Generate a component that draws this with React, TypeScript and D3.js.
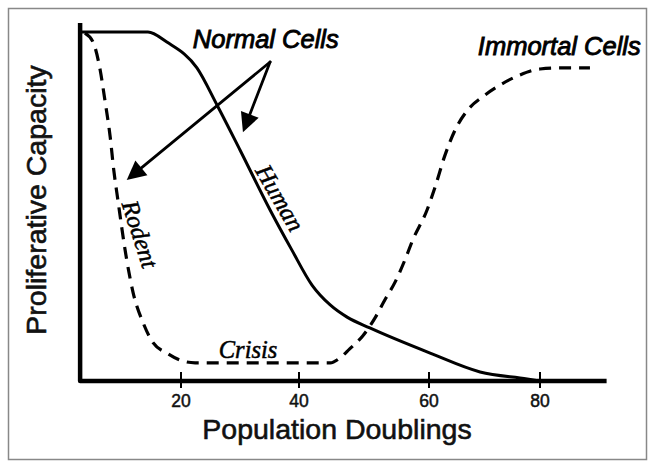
import React from "react";
import * as d3 from "d3";

// ---- data (population doublings, proliferative capacity %) ----
const xTicks = [20, 40, 60, 80];

const humanX = [2.9, 14.4, 17.6, 22.7, 26.1, 30.0, 35.1, 38.8, 42.0, 44.8, 47.4, 50.9, 60.2, 69.2, 77.7, 80];
const humanY = [100, 100, 97.1, 89.7, 79.1, 66.2, 49.0, 37.5, 27.5, 21.8, 18.3, 15.2, 8.0, 2.6, 0.6, 0];

const rodentX = [3.7, 5.1, 6.3, 7.1, 8.0, 8.6, 9.3, 10.8, 11.9, 13.6, 15.3, 17.6, 20.3, 22.4, 44.8];
const rodentY = [99.7, 97.1, 89.1, 80.5, 69.9, 60.5, 51.9, 34.7, 25.2, 16.6, 10.9, 8.0, 5.7, 5.2, 5.2];

const immortalX = [46.3, 47.8, 49.8, 51.7, 53.2, 54.8, 56.3, 57.5, 59.7, 61.1, 62.9, 64.7, 67.0, 69.9, 72.8, 76.4, 80.0, 83.6, 89.0];
const immortalY = [6.6, 9.2, 12.9, 18.1, 23.2, 28.4, 34.7, 40.4, 49.0, 55.6, 64.8, 71.9, 77.7, 81.7, 84.8, 87.7, 89.4, 89.7, 89.7];

// annotation anchors in data units
const arrowFrom = [35.1, 91.4];
const arrowTips = [
  [10.8, 57.6],
  [30.5, 71.3],
];

const labels = [
  { text: "Normal Cells", x: 22.0, y: 95.4, rot: 0, kind: "sans", anchor: "start" },
  { text: "Immortal Cells", x: 68.8, y: 93.4, rot: 0, kind: "sans", anchor: "start" },
  { text: "Crisis", x: 26.4, y: 6.6, rot: 0, kind: "serif", anchor: "start" },
  { text: "Human", x: 36.8, y: 52.5, rot: 60, kind: "serif", anchor: "middle" },
  { text: "Rodent", x: 13.1, y: 42.1, rot: 72, kind: "serif", anchor: "middle" },
];

const xAxisStart = 2.9;
const xAxisEnd = 92;
const yAxisTop = 102.6;

export default function App() {
  const W = 655;
  const H = 462;
  const x = d3.scaleLinear().domain(xTicks).range([181, 299, 429, 540]);
  const y = d3.scaleLinear().domain([0, 100]).range([381, 32]);

  const line = d3
    .line<[number, number]>()
    .x((d) => x(d[0]))
    .y((d) => y(d[1]))
    .curve(d3.curveMonotoneX);

  const human = humanX.map((v, i) => [v, humanY[i]] as [number, number]);
  const dashed = [
    ...rodentX.map((v, i) => [v, rodentY[i]] as [number, number]),
    ...immortalX.map((v, i) => [v, immortalY[i]] as [number, number]),
  ];

  const x0 = x(xAxisStart);
  const y0 = y(0);

  const sans = "'Liberation Sans', Arial, sans-serif";
  const serif = "'Liberation Serif', 'Times New Roman', serif";

  const ax = x(arrowFrom[0]);
  const ay = y(arrowFrom[1]);

  return (
    <svg
      width={W}
      height={H}
      style={{ position: "absolute", left: 0, top: 0, background: "#fff" }}
    >
      <rect x={8.5} y={8.5} width={638} height={451} fill="none" stroke="#888" strokeWidth={1.5} />

      {/* axes */}
      <path
        d={`M${x0},${y(yAxisTop)} V${y0} H${x(xAxisEnd)}`}
        fill="none"
        stroke="#000"
        strokeWidth={4.5}
        strokeLinejoin="round"
      />
      {xTicks.map((t) => (
        <g key={t}>
          <line x1={x(t)} x2={x(t)} y1={y0 - 9} y2={y0 + 7} stroke="#000" strokeWidth={2} />
          <text
            x={x(t)}
            y={y0 + 26}
            textAnchor="middle"
            fontFamily={sans}
            fontSize={17.5}
            fill="#111"
            stroke="#111"
            strokeWidth={0.5}
          >
            {t}
          </text>
        </g>
      ))}

      <text
        x={337}
        y={439}
        textAnchor="middle"
        fontFamily={sans}
        fontSize={28.5}
        fill="#111"
        stroke="#111"
        strokeWidth={0.6}
      >
        Population Doublings
      </text>
      <text
        transform={`translate(46,200) rotate(-90)`}
        textAnchor="middle"
        fontFamily={sans}
        fontSize={28.5}
        fill="#111"
        stroke="#111"
        strokeWidth={0.6}
      >
        Proliferative Capacity
      </text>

      {/* curves */}
      <path d={line(human) || ""} fill="none" stroke="#000" strokeWidth={3} strokeLinejoin="round" />
      <path
        d={line(dashed) || ""}
        fill="none"
        stroke="#000"
        strokeWidth={3.2}
        strokeDasharray="12 8"
      />

      {/* arrows */}
      {arrowTips.map((tp, i) => {
        const tx = x(tp[0]);
        const ty = y(tp[1]);
        const dx = tx - ax;
        const dy = ty - ay;
        const L = Math.hypot(dx, dy);
        const ux = dx / L;
        const uy = dy / L;
        const hl = 19;
        const hw = 9.5;
        const bx = tx - ux * hl;
        const by = ty - uy * hl;
        const p1 = [bx - uy * hw, by + ux * hw];
        const p2 = [bx + uy * hw, by - ux * hw];
        return (
          <g key={i}>
            <line x1={ax} y1={ay} x2={bx} y2={by} stroke="#000" strokeWidth={2.8} strokeLinecap="round" />
            <polygon points={`${tx},${ty} ${p1[0]},${p1[1]} ${p2[0]},${p2[1]}`} fill="#000" />
          </g>
        );
      })}

      {/* labels */}
      {labels.map((l) => (
        <text
          key={l.text}
          transform={`translate(${x(l.x)},${y(l.y)}) rotate(${l.rot})`}
          textAnchor={l.anchor}
          dominantBaseline={l.anchor === "middle" ? "central" : "auto"}
          fontFamily={l.kind === "sans" ? sans : serif}
          fontStyle="italic"
          fontWeight={400}
          fontSize={l.kind === "sans" ? 25.5 : 24.5}
          fill="#000"
          stroke="#000"
          strokeWidth={l.kind === "sans" ? 0.9 : 0.5}
        >
          {l.text}
        </text>
      ))}
    </svg>
  );
}
